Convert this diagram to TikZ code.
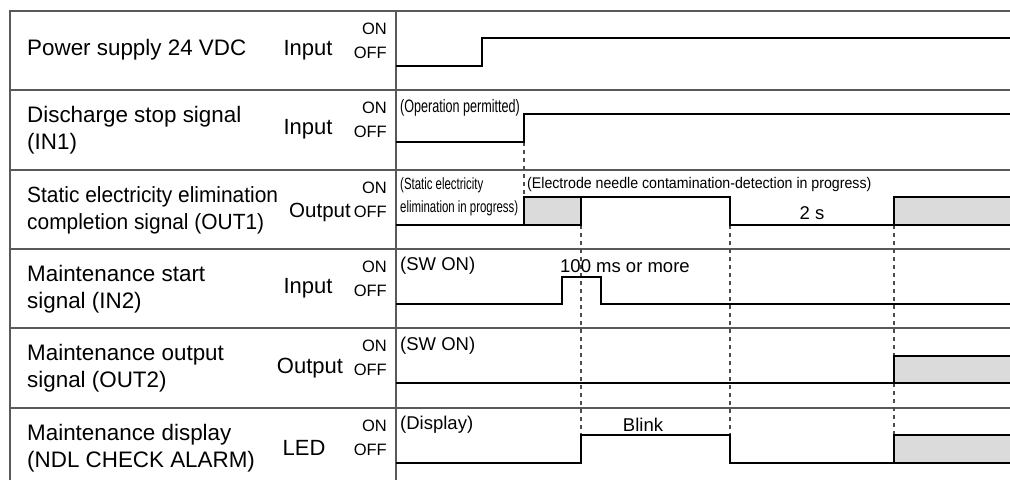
\documentclass[tikz,border=0pt]{standalone}
\usepackage{fontspec}
\setmainfont{Liberation Sans}
\newfontfamily\narrowfont[FakeStretch=0.7]{Liberation Sans}
\newfontfamily\slimfont[FakeStretch=0.92]{Liberation Sans}
\newfontfamily\tightfont[FakeStretch=0.95]{Liberation Sans}
\begin{document}
\begin{tikzpicture}[x=1pt,y=-1pt,
  gridline/.style={draw=black!65, line width=1.1pt},
  sig/.style={line width=2.4pt, line join=miter},
  shadebox/.style={fill=black!14},
  vguide/.style={draw=black!70, line width=1.1pt, dash pattern=on 4pt off 4pt},
  lbl/.style={anchor=west, inner sep=0pt, align=left, font=\fontsize{22.4}{27}\selectfont},
  kind/.style={anchor=center, inner sep=0pt, font=\fontsize{22}{26}\selectfont},
  onoff/.style={anchor=east, inner sep=0pt, font=\fontsize{16.5}{18}\selectfont},
  note/.style={anchor=west, inner sep=0pt, font=\fontsize{18.5}{22}\selectfont},
  narrownote/.style={anchor=west, inner sep=0pt, align=left, font=\narrowfont\fontsize{18}{20}\selectfont},
  smallnarrow/.style={anchor=west, inner sep=0pt, align=left, font=\narrowfont\fontsize{16.3}{23}\selectfont},
  midnote/.style={anchor=west, inner sep=0pt, font=\slimfont\fontsize{15.4}{17}\selectfont}
]
\useasboundingbox (0,0) rectangle (1010,480);

% grid
\draw[gridline] (10,480) -- (10,11) -- (1010,11);
\draw[gridline] (396,11) -- (396,480);
\foreach \yy in {90,170,249,328,408} \draw[gridline] (10,\yy) -- (1010,\yy);

% left labels
\node[lbl] (l1) at (27,50) {Power supply 24 VDC};
\node[lbl] (l2) at (27,130) {Discharge stop signal\\(IN1)};
\node[lbl, font=\tightfont\fontsize{22}{27}\selectfont] (l3) at (27,210) {Static electricity elimination\\completion signal (OUT1)};
\node[lbl] (l4) at (27,289) {Maintenance start\\signal (IN2)};
\node[lbl] (l5) at (27,368) {Maintenance output\\signal (OUT2)};
\node[lbl] (l6) at (27,448) {Maintenance display\\(NDL CHECK ALARM)};

\node[kind] (k1) at (308,50) {Input};
\node[kind] (k2) at (308,129) {Input};
\node[kind, font=\fontsize{20.5}{25}\selectfont] (k3) at (320,212) {Output};
\node[kind] (k4) at (308,288) {Input};
\node[kind] (k5) at (310,368) {Output};
\node[kind] (k6) at (304,448) {LED};

\foreach \t/\n in {11/1,90/2,170/3,249/4,328/5,408/6}{
  \node[onoff] (on\n) at (387,\t+18) {ON};
  \node[onoff] (off\n) at (387,\t+42) {OFF};
}

% guides
\draw[vguide] (524,142) -- (524,197);
\draw[vguide] (581,225) -- (581,435);
\draw[vguide] (730,225) -- (730,435);
\draw[vguide] (894,225) -- (894,356);
\draw[vguide] (894,383) -- (894,435);

% shaded boxes
\fill[shadebox] (524,197) rectangle (581,225);
\fill[shadebox] (894,197) rectangle (1010,225);
\fill[shadebox] (894,356) rectangle (1010,383);
\fill[shadebox] (894,435) rectangle (1010,463);

% waveforms
\draw[sig] (396,66) -- (482,66) -- (482,38) -- (1010,38);
\draw[sig] (396,142) -- (524,142) -- (524,114) -- (1010,114);
\draw[sig] (396,225) -- (581,225) -- (581,197);
\draw[sig] (524,225) -- (524,197) -- (730,197) -- (730,225) -- (894,225) -- (894,197) -- (1010,197);
\draw[sig] (894,225) -- (1010,225);
\draw[sig] (396,304) -- (562,304) -- (562,277) -- (601,277) -- (601,304) -- (1010,304);
\draw[sig] (396,383) -- (1010,383);
\draw[sig] (894,383) -- (894,356) -- (1010,356);
\draw[sig] (396,463) -- (581,463) -- (581,435) -- (730,435) -- (730,463) -- (1010,463);
\draw[sig] (894,463) -- (894,435) -- (1010,435);

% chart notes
\node[narrownote] (n1) at (400,108) {(Operation permitted)};
\node[smallnarrow] (n2) at (400,197) {(Static electricity\\elimination in progress)};
\node[midnote] (n3) at (527,185) {(Electrode needle contamination-detection in progress)};
\node[note, anchor=center] (n4) at (812,213) {2 s};
\node[note] (n5) at (400,266) {(SW ON)};
\node[note] (n6) at (560,266) {100 ms or more};
\node[note] (n7) at (400,346) {(SW ON)};
\node[note] (n8) at (400,425) {(Display)};
\node[note, anchor=center] (n9) at (643,425) {Blink};
\end{tikzpicture}
\end{document}
